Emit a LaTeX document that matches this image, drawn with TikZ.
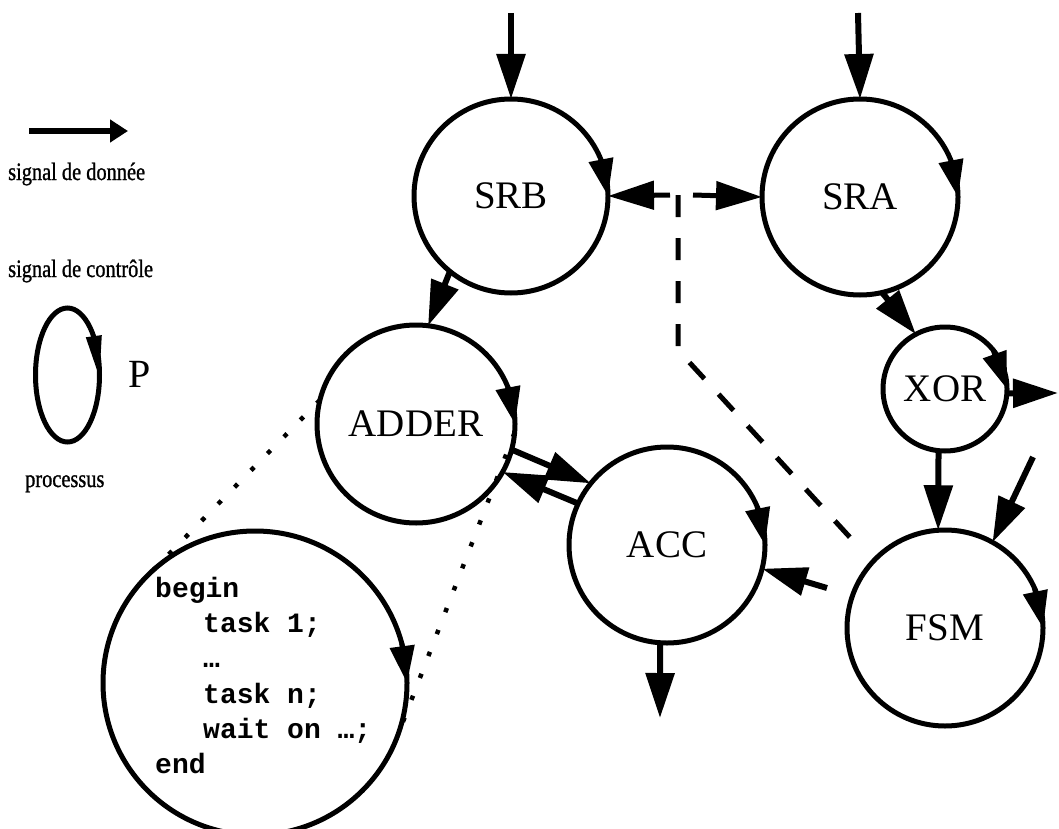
\documentclass[tikz,border=0pt]{standalone}
\usepackage{fontspec}
\setmainfont{Liberation Serif}
\newfontfamily\condserif[FakeStretch=0.815,FakeBold=1]{Liberation Serif}
\newfontfamily\codefont{Liberation Mono}
\usetikzlibrary{arrows.meta,shapes.geometric}

\tikzset{
  proc/.style={circle, draw, line width=5pt, inner sep=0pt, outer sep=0pt,
               font=\fontsize{39}{41}\selectfont},
  flow/.style={line width=6pt, -{Triangle[length=45pt,width=28pt]}},
  turn/.style={line width=5pt, -{Triangle[length=37pt,width=24pt]}},
  ctrl/.style={line width=5pt, dash pattern=on 22pt off 21pt},
  ctrlhead/.style={line width=5pt, -{Triangle[length=46pt,width=28pt]}},
  zoomline/.style={line width=4.5pt, dash pattern=on 4.5pt off 19pt},
  legend/.style={anchor=base west, inner sep=0pt, font=\condserif\fontsize{25}{27}\selectfont},
  codeline/.style={anchor=base west, inner sep=0pt, font=\codefont\bfseries\fontsize{28}{30}\selectfont},
}

\begin{document}
\begin{tikzpicture}[x=1pt,y=-1pt]
\useasboundingbox (0,0) rectangle (1059,829);

% ---------- legend ----------
\coordinate (lgA) at (29,131);
\coordinate (lgB) at (128,131);
\draw[line width=6pt, -{Triangle[length=18pt,width=22pt]}] (lgA) -- (lgB);
\node[legend] (lgdata) at (8,180) {signal de donnée};
\node[legend] (lgctrl) at (8,277) {signal de contrôle};
\node[ellipse, draw, line width=5pt, minimum width=64pt, minimum height=134pt,
      inner sep=0pt, outer sep=0pt] (lgproc) at (67.5,375) {};
\draw[line width=4pt, -{Triangle[length=42pt,width=15pt]}] (lgproc.55) -- (lgproc.-5);
\node[anchor=base west, inner sep=0pt, font=\fontsize{40}{42}\selectfont] (lgP) at (128,387) {P};
\node[legend] (lgname) at (25,487) {processus};

% ---------- processes ----------
\node[proc, minimum size=194pt] (srb)   at (511,196) {SRB};
\node[proc, minimum size=196pt] (sra)   at (860,197) {SRA};
\node[proc, minimum size=198pt] (adder) at (416,424) {ADDER};
\node[proc, minimum size=196pt] (acc)   at (667,545) {ACC};
\node[proc, minimum size=124pt] (xor)   at (945,389) {XOR};
\node[proc, minimum size=196pt] (fsm)   at (945,628) {FSM};
\node[proc, minimum size=304pt] (code)  at (255,683) {};

% cyclic execution marks
\draw[turn] (srb.22) -- (srb.0);
\draw[turn] (sra.22) -- (sra.0);
\draw[turn] (adder.22) -- (adder.0);
\draw[turn] (acc.23) -- (acc.0);
\draw[turn] (fsm.24) -- (fsm.0);
\draw[turn] (xor.39) -- (xor.0);
\draw[turn] (code.15) -- (code.0);

% ---------- process body ----------
\node[codeline] (c1) at (155,597) {begin};
\node[codeline] (c2) at (203,632) {task 1;};
\node[codeline] (c3) at (203,667) {…};
\node[codeline] (c4) at (203,703) {task n;};
\node[codeline] (c5) at (203,738) {wait on …;};
\node[codeline] (c6) at (155,773) {end};

\draw[zoomline] (adder.166) -- (code.132);
\draw[zoomline] (adder.-5) -- (code.-21);

% ---------- data signals ----------
\coordinate (inB) at (511,13);
\coordinate (inA) at (858,13);
\coordinate (xout) at (1058,393);
\coordinate (fsmin) at (1033,457);
\coordinate (fsmout) at (827,588);
\coordinate (accout) at (660,718);

\draw[flow] (inB) -- (srb.north);
\draw[flow] (inA) -- (sra.north);
\draw[flow] (srb.231.6) -- (adder.83.7);
\draw[flow] (sra.283.5) -- (xor.118);
\draw[flow] (adder.-15) -- (acc.141);
\draw[flow] (acc.155) -- (adder.-29);
\draw[flow] (xor.264) -- (fsm.94);
\draw[flow] (xor.-4) -- (xout);
\draw[flow] (fsmin) -- (fsm.61);
\draw[flow] (fsmout) -- (acc.346);
\draw[flow] (acc.266) -- (accout);

% ---------- control signals ----------
\coordinate (junc) at (678,195);
\coordinate (bend) at (678,350);
\coordinate (ctrlend) at (857,545);
\coordinate (jl) at (670,195);
\coordinate (jr) at (693,195);
\draw[ctrl] (junc) -- (bend) -- (ctrlend);
\draw[ctrlhead] (jl) -- (srb.east);
\draw[ctrlhead] (jr) -- (sra.west);
\end{tikzpicture}
\end{document}
